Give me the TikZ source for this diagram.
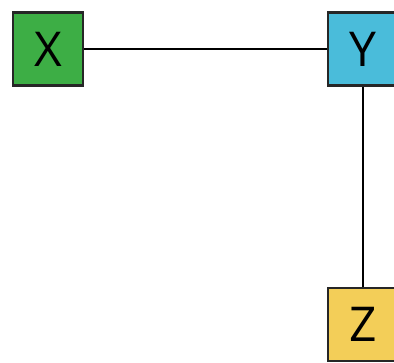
\documentclass[tikz,border=0pt]{standalone}
\usepackage{fontspec}
\setsansfont{Open Sans}
\begin{document}
\begin{tikzpicture}[x=1pt,y=-1pt]
  \definecolor{boxx}{HTML}{3DAE45}
  \definecolor{boxy}{HTML}{4ABCDA}
  \definecolor{boxz}{HTML}{F3CE58}
  \tikzset{letterbox/.style={draw=black!85,line width=2.6pt,minimum width=70pt,minimum height=73pt,inner sep=0pt,font=\sffamily\fontsize{48}{48}\selectfont}}
  \clip (0,0) rectangle (394,362);
  \useasboundingbox (0,0) rectangle (394,362);
  \node [letterbox,fill=boxx] (x) at (48,49) {X};
  \node [letterbox,fill=boxy] (y) at (363,49) {Y};
  \node [letterbox,fill=boxz] (z) at (363,324.5) {Z};
  \draw [line width=2.4pt] (x) -- (y);
  \draw [line width=2.4pt] (y) -- (z);
\end{tikzpicture}
\end{document}
